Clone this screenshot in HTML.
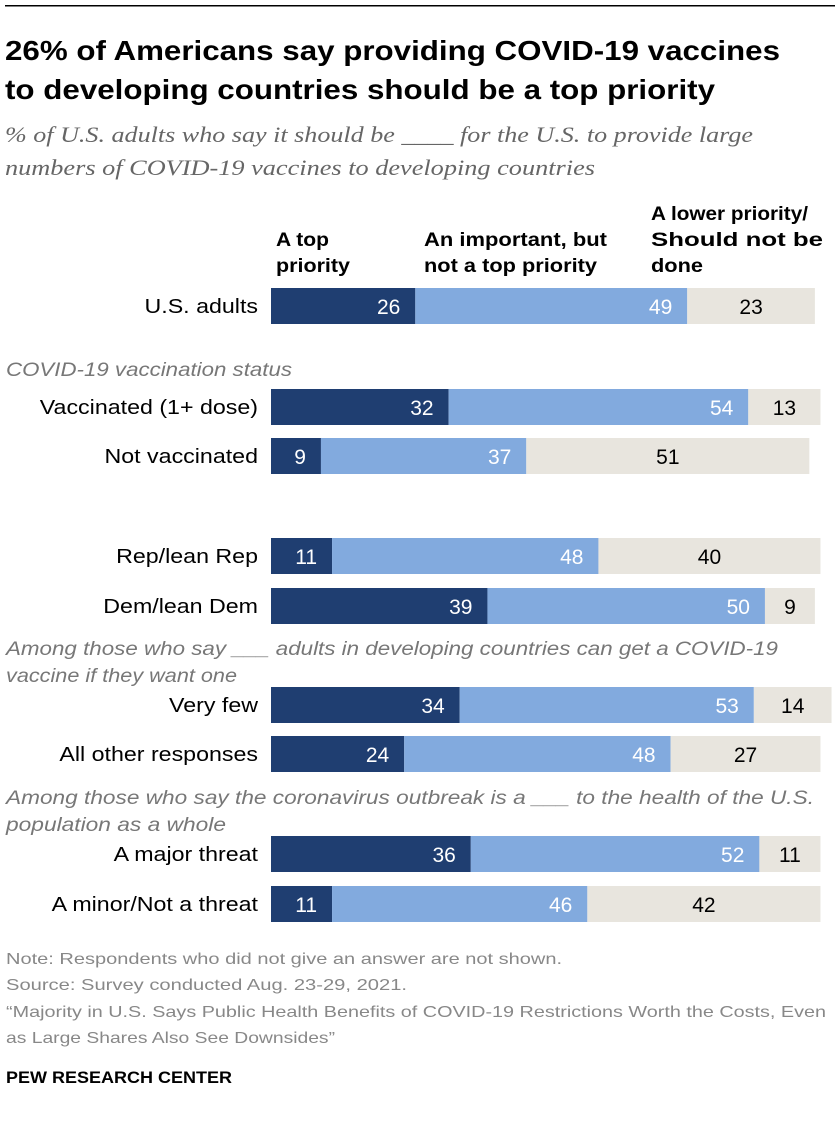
<!DOCTYPE html>
<html><head><meta charset="utf-8"><style>
body{margin:0;background:#fff}
svg{display:block;font-family:"Liberation Sans",sans-serif}
</style></head><body>
<svg id="chart" width="840" height="1124" viewBox="0 0 840 1124" xmlns="http://www.w3.org/2000/svg">
<rect x="5" y="5" width="830" height="1.5" fill="#000"/>
<g font-weight="bold" font-size="28" fill="#000">
<text x="5" y="60" textLength="775" lengthAdjust="spacingAndGlyphs">26% of Americans say providing COVID-19 vaccines</text>
<text x="5" y="99" textLength="710" lengthAdjust="spacingAndGlyphs">to developing countries should be a top priority</text>
</g>
<g font-family="Liberation Serif, serif" font-style="italic" font-size="22" fill="#666">
<text x="5" y="142" textLength="748" lengthAdjust="spacingAndGlyphs">% of U.S. adults who say it should be ____ for the U.S. to provide large</text>
<text x="5" y="175" textLength="590" lengthAdjust="spacingAndGlyphs">numbers of COVID-19 vaccines to developing countries</text>
</g>
<g font-weight="bold" font-size="19" fill="#000" lengthAdjust="spacingAndGlyphs">
<text x="276" y="246" textLength="53" lengthAdjust="spacingAndGlyphs">A top</text><text x="276" y="272" textLength="74" lengthAdjust="spacingAndGlyphs">priority</text>
<text x="424" y="246" textLength="183" lengthAdjust="spacingAndGlyphs">An important, but</text><text x="424" y="272" textLength="173" lengthAdjust="spacingAndGlyphs">not a top priority</text>
<text x="651" y="220" textLength="157" lengthAdjust="spacingAndGlyphs">A lower priority/</text><text x="651" y="246" textLength="172" lengthAdjust="spacingAndGlyphs">Should not be</text><text x="651" y="272" textLength="52" lengthAdjust="spacingAndGlyphs">done</text>
</g>
<g font-style="italic" font-size="19" fill="#777">
<text x="6" y="376" textLength="286" lengthAdjust="spacingAndGlyphs">COVID-19 vaccination status</text>
<text x="6" y="655" textLength="772" lengthAdjust="spacingAndGlyphs">Among those who say ___ adults in developing countries can get a COVID-19</text>
<text x="6" y="682" textLength="231" lengthAdjust="spacingAndGlyphs">vaccine if they want one</text>
<text x="6" y="804" textLength="808" lengthAdjust="spacingAndGlyphs">Among those who say the coronavirus outbreak is a ___ to the health of the U.S.</text>
<text x="6" y="831" textLength="220" lengthAdjust="spacingAndGlyphs">population as a whole</text>
</g>
<g id="bars"></g>
<g font-size="16" fill="#888">
<text x="6" y="964" textLength="556" lengthAdjust="spacingAndGlyphs">Note: Respondents who did not give an answer are not shown.</text>
<text x="6" y="990" textLength="401" lengthAdjust="spacingAndGlyphs">Source: Survey conducted Aug. 23-29, 2021.</text>
<text x="6" y="1017" textLength="820" lengthAdjust="spacingAndGlyphs">“Majority in U.S. Says Public Health Benefits of COVID-19 Restrictions Worth the Costs, Even</text>
<text x="6" y="1043" textLength="329" lengthAdjust="spacingAndGlyphs">as Large Shares Also See Downsides”</text>
</g>
<text x="6" y="1083" font-size="17" font-weight="bold" fill="#000" textLength="226" lengthAdjust="spacingAndGlyphs">PEW RESEARCH CENTER</text>
</svg>
<script>
const categories = ["U.S. adults","Vaccinated (1+ dose)","Not vaccinated","Rep/lean Rep","Dem/lean Dem","Very few","All other responses","A major threat","A minor/Not a threat"];
const topPriority = [26,32,9,11,39,34,24,36,11];
const important = [49,54,37,48,50,53,48,52,46];
const lower = [23,13,51,40,9,14,27,11,42];
const rowY = [306,407,456,556,606,705,754,854,904];
const x0 = 271, scale = 5.55, bh = 36;
const xs = v => x0 + v*scale;
const ns = "http://www.w3.org/2000/svg";
const g = document.getElementById('bars');
function mk(tag, attrs, txt){const e=document.createElementNS(ns,tag);for(const k in attrs)e.setAttribute(k,attrs[k]);if(txt!==undefined)e.textContent=txt;g.appendChild(e);return e;}
categories.forEach((c,i)=>{
  const y = rowY[i];
  const lab = mk('text',{x:258,y:y+7,'text-anchor':'end','font-size':20,fill:'#000'},c);
  
  
  const w = lab.getComputedTextLength();
  lab.setAttribute('textLength', (w*1.16).toFixed(1));
  lab.setAttribute('lengthAdjust','spacingAndGlyphs');
  const a = topPriority[i], b = important[i], l = lower[i];
  const r1 = mk('rect',{x:xs(0),y:y-bh/2,width:xs(a)-xs(0),height:bh,fill:'#1f3e71'});
  
  
  const r2 = mk('rect',{x:xs(a),y:y-bh/2,width:xs(a+b)-xs(a),height:bh,fill:'#82aade'});
  
  
  const r3 = mk('rect',{x:xs(a+b),y:y-bh/2,width:xs(a+b+l)-xs(a+b),height:bh,fill:'#e8e5de'});
  
  
  const t1 = mk('text',{x:xs(a)-15,y:y+8,'text-anchor':'end','font-size':21,fill:'#fff'},a);
  
  
  const t2 = mk('text',{x:xs(a+b)-15,y:y+8,'text-anchor':'end','font-size':21,fill:'#fff'},b);
  
  
  const t3 = mk('text',{x:(xs(a+b)+xs(a+b+l))/2,y:y+8,'text-anchor':'middle','font-size':21,fill:'#000'},l);
  
  
});
</script>
</body></html>
